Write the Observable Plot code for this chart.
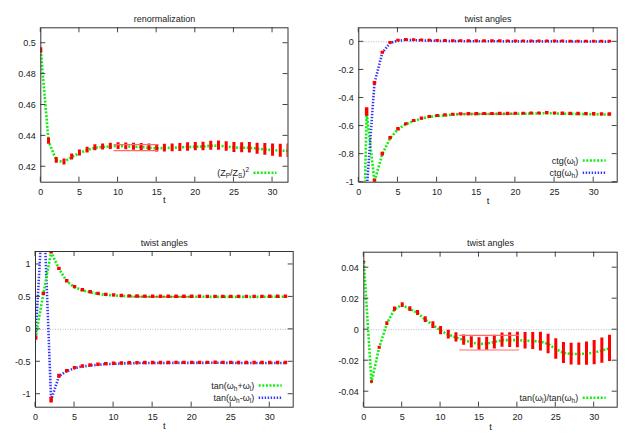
<!DOCTYPE html>
<html>
<head>
<meta charset="utf-8">
<script src="https://cdn.jsdelivr.net/npm/d3@7"></script>
<script src="https://cdn.jsdelivr.net/npm/@observablehq/plot@0.6"></script>
<style>
  html, body { margin: 0; padding: 0; background: #fff; }
  #wrap { position: relative; width: 631px; height: 441px; overflow: hidden; }
  #wrap svg { position: absolute; }
</style>
</head>
<body>
<div id="wrap"></div>
<script>
// ---------- data ----------
const t = [0,1,2,3,4,5,6,7,8,9,10,11,12,13,14,15,16,17,18,19,20,21,22,23,24,25,26,27,28,29,30,31,32];

// panel 1: renormalization (Z_P/Z_S)^2
const renorm = [0.4953,0.4366,0.4241,0.4231,0.4263,0.4289,0.4308,0.4323,0.4328,0.4332,0.4334,0.4332,0.4330,0.4328,0.4323,0.4319,0.4321,0.4323,0.4325,0.4328,0.4330,0.4331,0.4336,0.4337,0.4331,0.4325,0.4323,0.4323,0.4317,0.4312,0.4308,0.4304,0.4304];
const renormErr = [0.0017,0.0020,0.0019,0.0019,0.0019,0.0019,0.0019,0.0020,0.0020,0.0021,0.0022,0.0022,0.0023,0.0023,0.0024,0.0024,0.0025,0.0025,0.0026,0.0027,0.0027,0.0028,0.0029,0.0030,0.0031,0.0032,0.0033,0.0034,0.0036,0.0038,0.0040,0.0042,0.0044];
const renormBandT = [9.5, 15.3];
const renormBandY = [0.4305, 0.4344];

// panel 2: ctg(omega_l), ctg(omega_h)
const ctgL = [-3,-0.50,-0.995,-0.80,-0.686,-0.623,-0.587,-0.564,-0.547,-0.535,-0.528,-0.524,-0.519,-0.516,-0.515,-0.515,-0.514,-0.514,-0.513,-0.513,-0.512,-0.512,-0.511,-0.510,-0.508,-0.510,-0.512,-0.513,-0.514,-0.515,-0.516,-0.517,-0.518];
const ctgLErr = [0.01,0.03,0.016,0.013,0.012,0.012,0.011,0.011,0.011,0.011,0.011,0.011,0.011,0.011,0.011,0.011,0.011,0.011,0.011,0.011,0.011,0.011,0.011,0.011,0.011,0.011,0.012,0.012,0.012,0.012,0.012,0.012,0.012];
const ctgH = [-3,-1.06,-0.295,-0.078,-0.008,0.008,0.013,0.012,0.010,0.008,0.007,0.006,0.005,0.005,0.004,0.004,0.004,0.004,0.004,0.003,0.003,0.003,0.003,0.003,0.003,0.003,0.003,0.002,0.002,0.002,0.002,0.002,0.001];
const ctgHErr = [0.01,0.01,0.013,0.011,0.01,0.01,0.01,0.01,0.01,0.01,0.01,0.01,0.01,0.01,0.01,0.01,0.01,0.01,0.01,0.01,0.01,0.01,0.01,0.01,0.01,0.01,0.01,0.01,0.01,0.01,0.01,0.01,0.01];
const ctgBandT = [12.5, 20];
const ctgBandY = [-0.517, -0.509];

// panel 3: tan(omega_h + omega_l), tan(omega_h - omega_l)
const tanPlus = [-0.134,0.546,1.19,0.933,0.742,0.650,0.603,0.572,0.546,0.531,0.524,0.515,0.509,0.506,0.504,0.503,0.503,0.503,0.502,0.502,0.502,0.502,0.501,0.501,0.500,0.500,0.500,0.501,0.501,0.501,0.502,0.502,0.502];
const tanPlusErr = [0.03,0.026,0.03,0.026,0.026,0.026,0.026,0.026,0.026,0.026,0.026,0.026,0.026,0.026,0.026,0.026,0.026,0.026,0.026,0.026,0.026,0.026,0.026,0.026,0.026,0.026,0.026,0.026,0.026,0.026,0.026,0.026,0.026];
const tanMinus = [-0.134,2.0,-1.09,-0.722,-0.644,-0.598,-0.572,-0.557,-0.546,-0.536,-0.531,-0.526,-0.522,-0.520,-0.519,-0.519,-0.518,-0.518,-0.517,-0.517,-0.517,-0.516,-0.516,-0.515,-0.516,-0.517,-0.518,-0.519,-0.519,-0.519,-0.519,-0.518,-0.518];
const tanMinusErr = [0.03,0.03,0.045,0.03,0.026,0.026,0.026,0.026,0.026,0.026,0.026,0.026,0.026,0.026,0.026,0.026,0.026,0.026,0.026,0.026,0.026,0.026,0.026,0.026,0.026,0.026,0.026,0.026,0.026,0.026,0.026,0.026,0.026];
const tanBandT = [12.5, 20];
const tanBandY = [0.499, 0.505];

// panel 4: tan(omega_l)/tan(omega_h)
const ratio = [0.0437,-0.0338,-0.0116,0.0039,0.0133,0.0159,0.0133,0.0108,0.0065,0.0030,-0.0006,-0.0032,-0.0050,-0.0067,-0.0082,-0.0092,-0.0090,-0.0080,-0.0067,-0.0067,-0.0067,-0.0071,-0.0073,-0.0077,-0.0092,-0.0125,-0.0150,-0.0157,-0.0157,-0.0155,-0.0148,-0.0135,-0.0120];
const ratioErr = [0.0005,0.0008,0.0010,0.0012,0.0014,0.0015,0.0015,0.0016,0.0018,0.0022,0.0026,0.0028,0.0030,0.0033,0.0036,0.0040,0.0042,0.0044,0.0046,0.0048,0.0050,0.0053,0.0055,0.0060,0.0063,0.0066,0.0068,0.0070,0.0072,0.0075,0.0078,0.0082,0.0085];
const ratioBandT = [12.5, 20.3];
const ratioBandY = [-0.0131, -0.0036];

// ticks
const xTicks = [0,5,10,15,20,25,30];
const yTicks1 = [0.42,0.44,0.46,0.48,0.5];
const yTicks2 = [-1,-0.8,-0.6,-0.4,-0.2,0];
const yTicks3 = [-1,-0.5,0,0.5,1];
const yTicks4 = [-0.04,-0.02,0,0.02,0.04];

// titles & legends (segments: [text, "sub"|"sup"|""])
const titles = ["renormalization", "twist angles", "twist angles", "twist angles"];
const legend1 = [[["(Z",""],["P","sub"],["/Z",""],["S","sub"],[")",""],["2","sup"]]];
const legend2 = [[["ctg(ω",""],["l","sub"],[")",""]], [["ctg(ω",""],["h","sub"],[")",""]]];
const legend3 = [[["tan(ω",""],["h","sub"],["+ω",""],["l","sub"],[")",""]], [["tan(ω",""],["h","sub"],["-ω",""],["l","sub"],[")",""]]];
const legend4 = [[["tan(ω",""],["l","sub"],[")/tan(ω",""],["h","sub"],[")",""]]];

// ---------- styles ----------
const GREEN = "#10f010", BLUE = "#3434ff", RED = "#ff0000", BAND = "#ff6a6a";
const GDASH = "2,1.6", BDASH = "1.4,1.6";
const FONT = "'Liberation Sans', Arial, Helvetica, sans-serif";
const ns = "http://www.w3.org/2000/svg";
const fmt = d => String(d);

const rows = (vals, errs) => t.map((x, i) => ({t: x, v: vals[i], e: errs[i]}));
const bandRows = (bt, by) => by.map(y => ({y, x1: bt[0], x2: bt[1]}));

function el(name, attrs) {
  const e = document.createElementNS(ns, name);
  for (const k in attrs) e.setAttribute(k, attrs[k]);
  return e;
}

// inward (mirrored) ticks on all four sides, positioned via the plot's scales
function inwardTicks(xt, yt) {
  return (index, scales, values, dims) => {
    const g = el("g", {stroke: "#444", "stroke-width": 1});
    const L = dims.marginLeft, R = dims.width - dims.marginRight;
    const T = dims.marginTop, B = dims.height - dims.marginBottom;
    const len = 5;
    xt.forEach(v => {
      const x = scales.x(v);
      g.appendChild(el("line", {x1: x, x2: x, y1: B, y2: B - len}));
      g.appendChild(el("line", {x1: x, x2: x, y1: T, y2: T + len}));
    });
    yt.forEach(v => {
      const y = scales.y(v);
      g.appendChild(el("line", {x1: L, x2: L + len, y1: y, y2: y}));
      g.appendChild(el("line", {x1: R, x2: R - len, y1: y, y2: y}));
    });
    return g;
  };
}

function legendMark(entries, styles) {
  return (index, scales, values, dims) => {
    const g = el("g", {});
    const right = dims.width - dims.marginRight;
    const bottom = dims.height - dims.marginBottom;
    entries.forEach((segs, i) => {
      const y = bottom - 9 - (entries.length - 1 - i) * 12.3;
      const tx = el("text", {x: right - 38.5, y, dy: "0.35em", "text-anchor": "end", fill: "#222", "font-size": 9});
      let shift = 0;
      segs.forEach(([s, kind]) => {
        const sp = el("tspan", {});
        const target = kind === "sub" ? 2.5 : kind === "sup" ? -3.5 : 0;
        if (target !== shift) { sp.setAttribute("dy", target - shift); shift = target; }
        if (kind) sp.setAttribute("font-size", "6.5");
        sp.textContent = s;
        tx.appendChild(sp);
      });
      g.appendChild(tx);
      g.appendChild(el("line", {x1: right - 34, x2: right - 11, y1: y, y2: y, stroke: styles[i].stroke, "stroke-width": 2.5, "stroke-dasharray": styles[i].dash}));
    });
    return g;
  };
}

function frameMarks(yTicks, title, titleDy, tDy) {
  return [
    Plot.axisX(xTicks, {anchor: "bottom", tickSize: 0, tickPadding: 6.5, tickFormat: fmt, label: null, fontSize: 9}),
    Plot.axisY(yTicks, {anchor: "left", tickSize: 0, tickPadding: 5, tickFormat: fmt, label: null, fontSize: 9}),
    inwardTicks(xTicks, yTicks),
    Plot.frame({stroke: "#333", strokeWidth: 1}),
    Plot.text([title], {text: d => d, frameAnchor: "top", dy: titleDy, fontSize: 9, fill: "#222"}),
    Plot.text(["t"], {text: d => d, frameAnchor: "bottom", dy: tDy, fontSize: 9.5, fill: "#222"})
  ];
}

function panel(cfg) {
  const svg = Plot.plot({
    width: cfg.width, height: cfg.height,
    marginLeft: cfg.m[0], marginRight: cfg.m[1], marginTop: cfg.m[2], marginBottom: cfg.m[3],
    x: {domain: cfg.xDomain, label: null},
    y: {domain: cfg.yDomain, label: null},
    style: {fontFamily: FONT, fontSize: "9px", color: "#222", background: "transparent", overflow: "visible"},
    marks: cfg.marks
  });
  svg.style.left = cfg.left + "px";
  svg.style.top = cfg.top + "px";
  document.getElementById("wrap").appendChild(svg);
}

const lineOpts = (stroke, dash) => ({x: "t", y: "v", stroke, strokeWidth: 2.6, strokeDasharray: dash, strokeLinecap: "butt", clip: true});
const barOpts = (w) => ({x: "t", y1: d => d.v - d.e, y2: d => d.v + d.e, stroke: RED, strokeWidth: w, clip: true});
const zero = Plot.ruleY([0], {stroke: "#b8b8b8", strokeDasharray: "1,1.5", strokeWidth: 1});

// Panel 1
const d1 = rows(renorm, renormErr);
panel({
  left: 0, top: 0, width: 315, height: 220, m: [40.3, 27.5, 27.3, 38.3],
  xDomain: [0, 32], yDomain: [0.41, 0.51],
  marks: [
    Plot.line(d1, lineOpts(GREEN, GDASH)),
    Plot.ruleX(d1, barOpts(3)),
    Plot.ruleY(bandRows(renormBandT, renormBandY), {y: "y", x1: "x1", x2: "x2", stroke: BAND, strokeWidth: 1.2}),
    ...frameMarks(yTicks1, titles[0], -12.6, 21),
    legendMark(legend1, [{stroke: GREEN, dash: GDASH}])
  ]
});

// Panel 2
const d2a = rows(ctgL, ctgLErr), d2b = rows(ctgH, ctgHErr);
panel({
  left: 315, top: 0, width: 316, height: 220, m: [43.3, 14.3, 27.3, 38.3],
  xDomain: [0, 33], yDomain: [-1, 0.1],
  marks: [
    zero,
    Plot.line(d2a, lineOpts(GREEN, GDASH)),
    Plot.line(d2b, lineOpts(BLUE, BDASH)),
    Plot.ruleY(bandRows(ctgBandT, ctgBandY), {y: "y", x1: "x1", x2: "x2", stroke: "#d04a3a", strokeWidth: 1, strokeOpacity: 0.6}),
    Plot.ruleX(d2a, barOpts(3.5)),
    Plot.ruleX(d2b, barOpts(3.5)),
    ...frameMarks(yTicks2, titles[1], -12.6, 22),
    legendMark(legend2, [{stroke: GREEN, dash: GDASH}, {stroke: BLUE, dash: BDASH}])
  ]
});

// Panel 3
const d3a = rows(tanPlus, tanPlusErr), d3b = rows(tanMinus, tanMinusErr);
panel({
  left: 0, top: 220, width: 315, height: 221, m: [35, 22.3, 31, 34.3],
  xDomain: [0, 33], yDomain: [-1.2, 1.2],
  marks: [
    zero,
    Plot.line(d3b, lineOpts(BLUE, BDASH)),
    Plot.line(d3a, lineOpts(GREEN, GDASH)),
    Plot.ruleY(bandRows(tanBandT, tanBandY), {y: "y", x1: "x1", x2: "x2", stroke: "#c8502a", strokeWidth: 1, strokeOpacity: 0.6}),
    Plot.ruleX(d3a, barOpts(3.5)),
    Plot.ruleX(d3b, barOpts(3.5)),
    ...frameMarks(yTicks3, titles[2], -11.7, 21.6),
    legendMark(legend3, [{stroke: GREEN, dash: GDASH}, {stroke: BLUE, dash: BDASH}])
  ]
});

// Panel 4
const d4 = rows(ratio, ratioErr);
panel({
  left: 315, top: 220, width: 316, height: 221, m: [48.3, 14.3, 31.7, 34.3],
  xDomain: [0, 33], yDomain: [-0.05, 0.05],
  marks: [
    zero,
    Plot.line(d4, lineOpts(GREEN, GDASH)),
    Plot.ruleX(d4, barOpts(3)),
    Plot.ruleY(bandRows(ratioBandT, ratioBandY), {y: "y", x1: "x1", x2: "x2", stroke: BAND, strokeWidth: 1.2}),
    ...frameMarks(yTicks4, titles[3], -12.7, 22.3),
    legendMark(legend4, [{stroke: GREEN, dash: GDASH}])
  ]
});
</script>
</body>
</html>
